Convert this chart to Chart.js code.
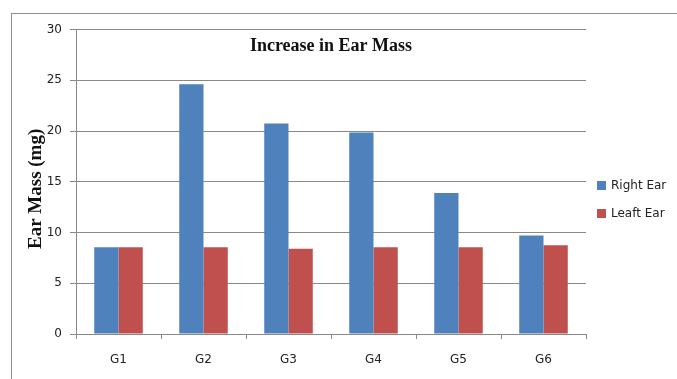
<!DOCTYPE html>
<html>
<head>
<meta charset="utf-8">
<script src="https://cdn.jsdelivr.net/npm/chart.js@4/dist/chart.umd.min.js"></script>
<style>
  html, body { margin: 0; padding: 0; background: #fff; }
  #wrap { position: relative; width: 677px; height: 379px; }
</style>
</head>
<body>
<div id="wrap"><canvas id="myChart"></canvas></div>
<script>
// groups and ear mass (mg) for each side
const groups = ['G1', 'G2', 'G3', 'G4', 'G5', 'G6'];
const rightEar = [8.55, 24.6, 20.75, 19.85, 13.9, 9.7];
const leftEar = [8.55, 8.55, 8.4, 8.55, 8.55, 8.75];
const seriesNames = ['Right Ear', 'Leaft Ear'];
const yTicks = [0, 5, 10, 15, 20, 25, 30];
const chartTitle = 'Increase in Ear Mass';
const yTitle = 'Ear Mass (mg)   '; // trailing spaces nudge the label down a bit

Chart.defaults.font.family = '"DejaVu Sans", sans-serif';
Chart.defaults.font.size = 12;
Chart.defaults.color = '#222';

const gridGray = '#898989';

// outer frame, title inside the plot and the legend on the right
const decor = {
  id: 'decor',
  beforeDraw(chart) {
    const ctx = chart.ctx;
    ctx.save();
    ctx.fillStyle = '#fff';
    ctx.fillRect(0, 0, chart.width, chart.height);
    ctx.strokeStyle = '#8e8e8e';
    ctx.lineWidth = 1;
    ctx.strokeRect(11.5, 13.5, 900, 600);
    ctx.restore();
  },
  afterDraw(chart) {
    const ctx = chart.ctx;
    const area = chart.chartArea;
    ctx.save();
    ctx.fillStyle = '#111';
    ctx.font = 'bold 18px "Liberation Serif", serif';
    ctx.textAlign = 'center';
    ctx.textBaseline = 'alphabetic';
    ctx.fillText(chartTitle, (area.left + area.right) / 2, 51);

    ctx.font = '12px "DejaVu Sans", sans-serif';
    ctx.textAlign = 'left';
    ctx.textBaseline = 'middle';
    chart.data.datasets.forEach((ds, i) => {
      const y = 185.5 + i * 28;
      ctx.fillStyle = ds.backgroundColor;
      ctx.fillRect(597, y - 4.5, 9, 9);
      ctx.fillStyle = '#222';
      ctx.fillText(ds.label, 611, y);
    });
    ctx.restore();
  }
};

const ctx = document.getElementById('myChart');

const myChart = new Chart(ctx, {
  type: 'bar',
  data: {
    labels: groups,
    datasets: [
      { label: seriesNames[0], data: rightEar, backgroundColor: '#4f81bd' },
      { label: seriesNames[1], data: leftEar, backgroundColor: '#c0504d' }
    ]
  },
  options: {
    responsive: true,
    maintainAspectRatio: false,
    animation: false,
    layout: { padding: { top: 29.5, right: 91, bottom: 0, left: 0 } },
    datasets: { bar: { categoryPercentage: 0.571, barPercentage: 1 } },
    plugins: {
      legend: { display: false },
      title: { display: false },
      tooltip: { enabled: false }
    },
    scales: {
      x: {
        grid: { display: true, drawOnChartArea: false, drawTicks: true, tickLength: 5, color: gridGray, offset: true },
        border: { display: true, color: gridGray },
        ticks: { padding: 14, color: '#222' },
        afterFit(scale) { scale.height = 45; }
      },
      y: {
        min: 0,
        max: 30,
        afterBuildTicks(scale) { scale.ticks = yTicks.map(v => ({ value: v })); },
        grid: { color: gridGray, tickLength: 6 },
        border: { display: true, color: gridGray },
        ticks: { padding: 8, color: '#222' },
        title: {
          display: true,
          text: yTitle,
          color: '#111',
          font: { family: '"Liberation Serif", serif', size: 19, weight: 'bold' },
          padding: { top: 25, bottom: 0 }
        },
        afterFit(scale) { scale.width = 76; }
      }
    }
  },
  plugins: [decor]
});
</script>
</body>
</html>
